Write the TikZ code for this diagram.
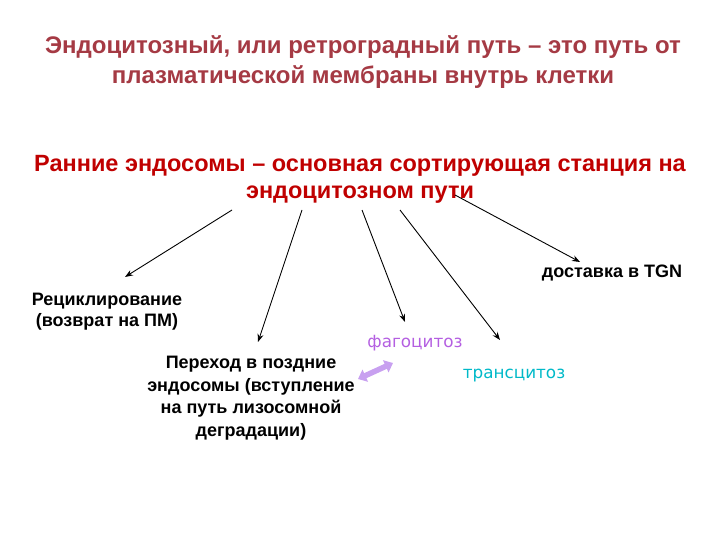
\documentclass[tikz,border=0pt]{standalone}
\usepackage{fontspec}
\setmainfont{Liberation Sans}
\newfontfamily\widefont{DejaVu Sans}
\usetikzlibrary{arrows.meta}
\usetikzlibrary{calc}

\definecolor{titlered}{RGB}{165,58,68}
\definecolor{subred}{RGB}{192,0,0}
\definecolor{phagoviolet}{RGB}{180,95,225}
\definecolor{linkviolet}{RGB}{200,160,240}
\definecolor{transcyan}{RGB}{0,185,200}

\begin{document}
\begin{tikzpicture}[x=1pt,y=-1pt,
  every node/.style={inner sep=0pt},
  head/.style={font=\fontsize{24}{30}\selectfont\bfseries,align=center},
  lbl/.style={font=\fontsize{18}{22.5}\selectfont\bfseries,align=center},
  path/.style={font=\widefont\fontsize{16.8}{19}\selectfont},
  arr/.style={-{Stealth[length=8pt,width=6pt]},line width=0.9pt},
  fat/.style={{Triangle[length=8pt,width=13pt]}-{Triangle[length=8pt,width=13pt]},line width=5.5pt,linkviolet}]
\useasboundingbox (0,0) rectangle (720,540);

% headings
\node[head,titlered] (title) at (363,62) {Эндоцитозный, или ретроградный путь – это путь от\\плазматической мембраны внутрь клетки};
\node[head,subred,font=\fontsize{23.5}{27}\selectfont\bfseries] (sub) at (360,179) {Ранние эндосомы – основная сортирующая станция на\\эндоцитозном пути};

% destinations
\node[lbl,font=\fontsize{18}{21}\selectfont\bfseries] (recycl) at (107,311.5) {Рециклирование\\(возврат на ПМ)};
\node[lbl] (late) at (251,398) {Переход в поздние\\эндосомы (вступление\\на путь лизосомной\\деградации)};
\node[lbl] (tgn) at (612,273) {доставка в TGN};
\node[path,phagoviolet] (phago) at (415,343) {фагоцитоз};
\node[path,transcyan] (transc) at (514,376) {трансцитоз};

% starts under the heading
\coordinate (s1) at (232,210);
\coordinate (s2) at (302,210);
\coordinate (s3) at (362,210);
\coordinate (s4) at (400,210);
\coordinate (s5) at (455,195);

\draw[arr] (s1) -- ([shift={(18,-34.5)}]recycl.center);
\draw[arr] (s2) -- ([shift={(7,-56)}]late.center);
\draw[arr] (s3) -- ([shift={(-10,-21)}]phago.center);
\draw[arr] (s4) -- ([shift={(-14,-36)}]transc.center);
\draw[arr] (s5) -- ([shift={(-32,-11)}]tgn.center);

\draw[fat] ([shift={(107,-19)}]late.center) -- ([shift={(-22,20)}]phago.center);
\end{tikzpicture}
\end{document}
